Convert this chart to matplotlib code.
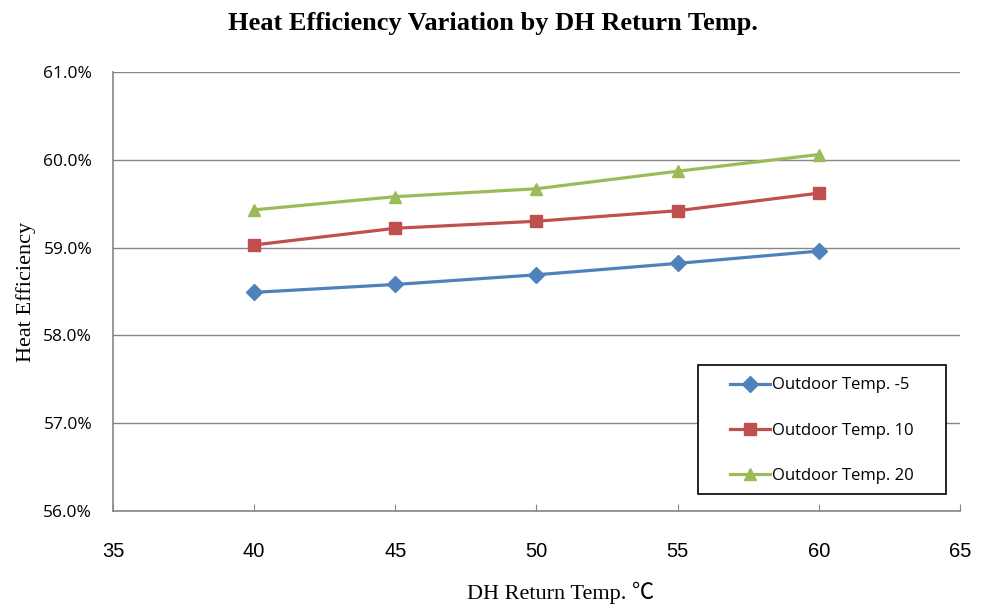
import numpy as np
import matplotlib.pyplot as plt
from matplotlib.patches import Rectangle
from matplotlib.ticker import FuncFormatter, MultipleLocator

# Data
dh_temp = [40, 45, 50, 55, 60]
eff_m5 = [58.49, 58.58, 58.69, 58.82, 58.96]
eff_10 = [59.03, 59.22, 59.30, 59.42, 59.62]
eff_20 = [59.43, 59.58, 59.67, 59.87, 60.06]
labels = ['Outdoor Temp. -5', 'Outdoor Temp. 10', 'Outdoor Temp. 20']

fig = plt.figure(figsize=(9.86, 6.07), dpi=100)
ax = fig.add_axes([0.1146, 0.1582, 0.859, 0.7232])

grey = '#868686'
ax.plot(dh_temp, eff_m5, color='#4F81BD', lw=2.3, marker='D', ms=8, label=labels[0])
ax.plot(dh_temp, eff_10, color='#C0504D', lw=2.3, marker='s', ms=8, label=labels[1])
ax.plot(dh_temp, eff_20, color='#9BBB59', lw=2.3, marker='^', ms=9, label=labels[2])

ax.set_xlim(35, 65)
ax.set_ylim(56, 61)
ax.xaxis.set_major_locator(MultipleLocator(5))
ax.yaxis.set_major_locator(MultipleLocator(1))
ax.yaxis.set_major_formatter(FuncFormatter(lambda v, p: '%.1f%%' % v))
ax.yaxis.grid(True, color=grey, lw=1)
ax.set_axisbelow(True)

for s in ['top', 'right']:
    ax.spines[s].set_visible(False)
for s in ['left', 'bottom']:
    ax.spines[s].set_color(grey)
    ax.spines[s].set_linewidth(1.2)

ax.tick_params(axis='x', direction='in', length=5, color=grey, pad=22)
ax.tick_params(axis='y', length=0, pad=15)
for t in ax.get_xticklabels():
    t.set_fontfamily('Liberation Sans')
    t.set_fontsize(14.5)
for t in ax.get_yticklabels():
    t.set_fontfamily('Open Sans')
    t.set_fontsize(12.5)

ax.set_xlabel('DH Return Temp. ℃', family=['Liberation Serif', 'Noto Sans CJK SC'],
              fontsize=16, labelpad=15)
ax.xaxis.label.set_x(0.528)
ax.set_ylabel('Heat Efficiency', family='Liberation Serif', fontsize=16, labelpad=5)
fig.suptitle('Heat Efficiency Variation by DH Return Temp.', family='Liberation Serif',
             fontweight='bold', fontsize=19, y=0.98)

# legend box (drawn separately so the padding matches the original)
box = Rectangle((0.691, 0.039), 0.292, 0.294, transform=ax.transAxes, fill=True,
                facecolor='white', edgecolor='black', lw=1.2, zorder=4)
ax.add_patch(box)
leg = ax.legend(loc='center', bbox_to_anchor=(0.837, 0.183), frameon=False,
                labelspacing=1.75, borderpad=0, handlelength=2.4,
                handletextpad=0.15, borderaxespad=0,
                prop={'family': 'Open Sans', 'size': 12})
leg.set_zorder(5)

plt.savefig('out.png', dpi=100)
